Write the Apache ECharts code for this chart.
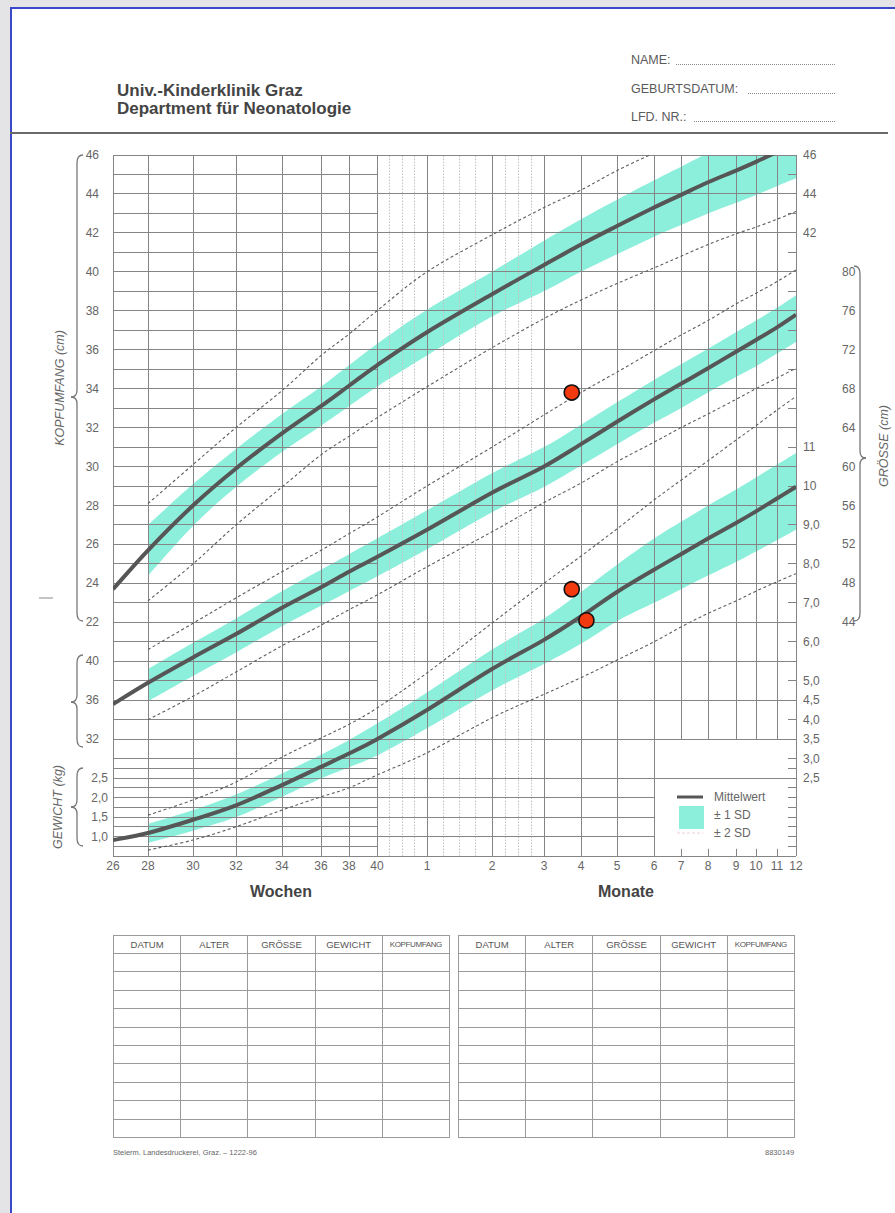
<!DOCTYPE html>
<html><head><meta charset="utf-8">
<script src="https://cdn.jsdelivr.net/npm/echarts@6/dist/echarts.min.js"></script>
<style>
html,body{margin:0;padding:0;}
body{width:895px;height:1213px;overflow:hidden;background:#e4e4e6;font-family:"Liberation Sans",Arial,sans-serif;position:relative;}
#page{position:absolute;left:10px;top:7px;width:900px;height:1230px;background:#fff;border-left:2px solid #3a49c9;border-top:2px solid #3a49c9;}
#chart{position:absolute;left:0;top:0;width:895px;height:1213px;}
.t{position:absolute;white-space:nowrap;color:#555;}
.h{font-size:17px;font-weight:bold;color:#444;left:117px;line-height:20px;}
.f{font-size:12.5px;left:631px;line-height:14px;color:#5a5a5a;}
.dots{position:absolute;border-bottom:1px dotted #888;height:0;}
.tbl{position:absolute;top:935px;width:337px;border-collapse:collapse;table-layout:fixed;}
.tbl th,.tbl td{border:1px solid #9a9a9a;padding:0;}
.tbl th{font-weight:normal;font-size:9.5px;color:#555;height:17px;letter-spacing:0;}
.tbl td{height:17.4px;}
.ft{font-size:7.5px;color:#666;top:1148px;}
</style></head>
<body>
<div id="page"></div>
<div class="t h" style="top:81px">Univ.-Kinderklinik Graz</div>
<div class="t h" style="top:99px">Department für Neonatologie</div>
<div class="t f" style="top:53px">NAME:</div>
<div class="dots" style="left:676px;width:159px;top:64px"></div>
<div class="t f" style="top:82px">GEBURTSDATUM:</div>
<div class="dots" style="left:748px;width:87px;top:93px"></div>
<div class="t f" style="top:110px">LFD. NR.:</div>
<div class="dots" style="left:694px;width:141px;top:121px"></div>
<div style="position:absolute;left:10px;top:132px;width:878px;height:2px;background:#6a6a6a"></div>
<div id="chart"></div>
<table class="tbl" id="tl" style="left:113px"></table>
<table class="tbl" id="tr" style="left:458px"></table>
<div class="t ft" style="left:113px">Steierm. Landesdruckerei, Graz. – 1222-96</div>
<div class="t ft" style="left:765px">8830149</div>
<script>
// ---------- table headings ----------
const tableHeads = ['DATUM','ALTER','GRÖSSE','GEWICHT','KOPFUMFANG'];
['tl','tr'].forEach(id=>{
  const t=document.getElementById(id);
  let h='<tr>'+tableHeads.map(s=>'<th'+(s==='KOPFUMFANG'?' style="font-size:8px;letter-spacing:-0.4px"':'')+'>'+s+'</th>').join('')+'</tr>';
  for(let r=0;r<10;r++) h+='<tr>'+tableHeads.map(()=>'<td></td>').join('')+'</tr>';
  t.innerHTML=h;
});

// ---------- data ----------
// age ticks: weeks of gestation 26..40, then months 1..12
const ageLabels = ['26','28','30','32','34','36','38','40','1','2','3','4','5','6','7','8','9','10','11','12'];
// printed (non-uniform) x scale of the form: position of each age tick
const xTickPos = [0,35,80,123,169,208,236,264,314,379,431,468,504,541,568,595,623,643,664,683];

// head circumference (cm)
const headMean = [23.7,25.7,28.0,29.9,31.7,33.1,34.15,35.2,36.9,38.85,40.35,41.4,42.35,43.3,43.95,44.6,45.2,45.65,46.15,46.6];
const head1Hi  = [null,27.0,29.1,30.9,32.7,34.1,35.2,36.3,38.05,40.0,41.6,42.7,43.7,44.7,45.4,46.1,46.75,47.25,47.8,48.3];
const head1Lo  = [null,24.4,26.95,28.95,30.75,32.1,33.1,34.1,35.7,37.7,39.0,40.0,40.9,41.8,42.4,43.0,43.55,43.95,44.4,44.8];
const head2Hi  = [null,28.1,30.1,32.0,33.9,35.7,36.8,38.0,40.0,41.9,43.3,44.2,45.2,46.1,46.7,null,null,null,null,null];
const head2Lo  = [null,23.1,25.0,27.0,28.95,30.6,31.55,32.5,34.1,36.1,37.6,38.55,39.4,40.2,40.8,41.4,41.95,42.3,42.7,43.1];
// length (cm)
const sizeMean = [35.6,37.8,40.4,42.8,45.5,47.6,49.2,50.7,53.5,57.3,60.0,62.3,64.6,66.9,68.5,70.1,71.8,73.0,74.3,75.6];
const size1Hi  = [null,39.2,41.9,44.4,47.2,49.4,51.0,52.6,55.5,59.3,62.0,64.3,66.6,68.9,70.5,72.1,73.8,75.0,76.3,77.6];
const size1Lo  = [null,35.9,38.5,40.9,43.6,45.7,47.2,48.7,51.5,55.3,57.9,60.1,62.3,64.5,66.0,67.6,69.2,70.3,71.6,72.8];
const size2Hi  = [null,41.2,43.9,46.5,49.2,51.4,53.1,54.8,58.0,62.0,65.3,67.6,69.7,71.9,73.5,75.0,76.7,77.8,79.0,80.2];
const size2Lo  = [null,34.0,36.4,38.9,41.6,43.7,45.3,46.8,49.7,53.3,56.3,58.3,60.5,62.5,64.0,65.4,66.9,68.0,69.1,70.1];
// weight (kg)
const weightMean = [0.91,1.09,1.43,1.8,2.32,2.79,3.13,3.5,4.25,5.3,6.05,6.65,7.28,7.85,8.25,8.65,9.05,9.35,9.68,9.98];
const weight1Hi  = [null,1.32,1.68,2.08,2.62,3.1,3.48,3.9,4.7,5.8,6.6,7.28,7.98,8.65,9.08,9.5,9.91,10.22,10.55,10.85];
const weight1Lo  = [null,0.84,1.15,1.5,2.02,2.49,2.78,3.08,3.78,4.75,5.43,5.95,6.53,7.0,7.35,7.7,8.05,8.32,8.61,8.88];
const weight2Hi  = [null,1.55,1.94,2.4,3.04,3.53,3.88,4.3,5.2,6.48,7.5,8.2,8.9,9.64,10.15,10.65,11.18,11.55,11.95,12.3];
const weight2Lo  = [null,0.65,0.91,1.25,1.68,2.02,2.25,2.58,3.15,4.05,4.65,5.08,5.53,6.0,6.38,6.73,7.05,7.3,7.54,7.75];
// patient measurements (age in months)
const patientSizeAge = [3.75];
const patientSizeCm = [67.6];
const patientWeightAge = [3.75, 4.15];
const patientWeightKg = [7.35, 6.55];

// axis tick labels
const headTicksLeft = [22,24,26,28,30,32,34,36,38,40,42,44,46];
const sizeTicksLeft = [32,36,40];
const weightTicksLeft = [1.0,1.5,2.0,2.5];
const headTicksRight = [42,44,46];
const weightTicksRight = [2.5,3.0,3.5,4.0,4.5,5.0,6,7,8,9,10,11];
const sizeTicksRight = [44,48,52,56,60,64,68,72,76,80];

// ---------- form scales (all three measures share one vertical grid) ----------
const headU = v => v;
const sizeU = v => v / 2;
const weightU = v => 9 + 2 * v;
const uToWeight = u => (u - 9) / 2;
const fmtKg = w => w >= 10 ? String(Math.round(w)) : w.toFixed(1).replace('.', ',');
const U_MIN = 10, U_MAX = 46;
const X_END = xTickPos[xTickPos.length - 1];
function monthPos(m){ const f = 7 + m, i = Math.floor(f), t = f - i; return xTickPos[i] + (xTickPos[i+1] - xTickPos[i]) * t; }

const TEAL = '#8cefdb', DARK = '#565656', DASH = '#5e5e5e';
const FONT = '"Liberation Sans", Arial, sans-serif';

function pts(arr, conv){ const o=[]; arr.forEach((v,i)=>{ if(v!=null) o.push([xTickPos[i], conv(v)]); }); return o; }

// Catmull-Rom spline through pixel points -> SVG path
function splineCmds(p, start){
  let d = start ? `M${p[0][0]} ${p[0][1]}` : `L${p[0][0]} ${p[0][1]}`;
  for(let i=0;i<p.length-1;i++){
    const p0=p[i-1]||p[i], p1=p[i], p2=p[i+1], p3=p[i+2]||p[i+1];
    const c1=[p1[0]+(p2[0]-p0[0])/6, p1[1]+(p2[1]-p0[1])/6];
    const c2=[p2[0]-(p3[0]-p1[0])/6, p2[1]-(p3[1]-p1[1])/6];
    d += ` C${c1[0]} ${c1[1]} ${c2[0]} ${c2[1]} ${p2[0]} ${p2[1]}`;
  }
  return d;
}
function clipOf(params){ const c=params.coordSys; return {type:'rect', shape:{x:c.x, y:c.y, width:c.width, height:c.height}}; }
function curveSeries(points, style, z){
  return {type:'custom', z:z, silent:true, animation:false, data:[[0,U_MIN]], encode:{x:0,y:1},
    renderItem:(params, api)=>{
      const p = points.map(q=>api.coord(q));
      return {type:'path', shape:{pathData:splineCmds(p,true)}, style:Object.assign({fill:'none'}, style), clipPath:clipOf(params)};
    }};
}
function bandSeries(lo, hi, conv){
  const loP=[], hiP=[];
  lo.forEach((v,i)=>{ if(v!=null && hi[i]!=null){ loP.push([xTickPos[i], conv(v)]); hiP.push([xTickPos[i], conv(hi[i])]); } });
  return {type:'custom', z:1, silent:true, animation:false, data:[[0,U_MIN]], encode:{x:0,y:1},
    renderItem:(params, api)=>{
      const a = hiP.map(q=>api.coord(q)), b = loP.map(q=>api.coord(q)).reverse();
      return {type:'path', shape:{pathData:splineCmds(a,true)+' '+splineCmds(b,false)+' Z'}, style:{fill:TEAL, stroke:'none'}, clipPath:clipOf(params)};
    }};
}
const dashStyle = {stroke:DASH, lineWidth:1.1, lineDash:[3,2.5]};
const meanStyle = {stroke:DARK, lineWidth:4};
function groupSeries(mean, lo1, hi1, lo2, hi2, conv){
  return [
    bandSeries(lo1, hi1, conv),
    curveSeries(pts(hi2,conv), dashStyle, 3),
    curveSeries(pts(lo2,conv), dashStyle, 3),
    curveSeries(pts(mean,conv), meanStyle, 4)
  ];
}

// ---------- grid of the form: [x1,u1,x2,u2,kind] kind 0 strong / 1 light ----------
const segs=[];
const X40 = xTickPos[7], X6 = xTickPos[13];
xTickPos.forEach((x,i)=>{
  if(i>=14 && i<=18){ segs.push([x,16,x,U_MAX,0]); segs.push([x,U_MIN,x,U_MIN+0.37,0]); }
  else segs.push([x,U_MIN,x,U_MAX,0]);
});
for(let k=7;k<=9;k++) for(let q=1;q<=3;q++){ const x=xTickPos[k]+(xTickPos[k+1]-xTickPos[k])*q/4; segs.push([x,U_MIN,x,U_MAX,1]); }
for(let u=U_MIN; u<=U_MAX; u++){
  let x2;
  if(u===U_MIN || (u%2===0 && u>=14)) x2=X_END;
  else if(u>=11 && u<=13) x2=X6;
  else x2=X40;
  segs.push([0,u,x2,u,0]);
}
for(let u=10.5; u<15; u+=1) segs.push([0,u,X40,u,0]);
for(let u=15; u<U_MAX; u+=2) segs.push([X_END-8,u,X_END,u,0]);
for(let u=10.5; u<14.6; u+=0.5){ if(u!==14) segs.push([X_END-8,u,X_END,u,0]); }
const snap = v => Math.round(v-0.5)+0.5;

const gridSeries = {type:'custom', z:2, silent:true, animation:false, data:segs, encode:{x:[0,2], y:[1,3]},
  renderItem:(params, api)=>{
    const a = api.coord([api.value(0), api.value(1)]), b = api.coord([api.value(2), api.value(3)]);
    const light = api.value(4) === 1;
    const vert = Math.abs(a[0]-b[0]) < 0.5;
    const x1 = vert ? snap(a[0]) : a[0], x2 = vert ? snap(b[0]) : b[0];
    const y1 = vert ? a[1] : snap(a[1]), y2 = vert ? b[1] : snap(b[1]);
    return {type:'line', shape:{x1:x1,y1:y1,x2:x2,y2:y2},
      style:{stroke: light ? '#c2c2c2' : '#858585', lineWidth:1, lineDash: light ? [1.5,1.5] : null}};
  }};

const series = [
  gridSeries,
  ...groupSeries(headMean, head1Lo, head1Hi, head2Lo, head2Hi, headU),
  ...groupSeries(sizeMean, size1Lo, size1Hi, size2Lo, size2Hi, sizeU),
  ...groupSeries(weightMean, weight1Lo, weight1Hi, weight2Lo, weight2Hi, weightU),
  {type:'scatter', silent:true, animation:false, symbolSize:15, z:6,
   itemStyle:{color:'#f23a0e', borderColor:'#111', borderWidth:1.6, opacity:1},
   data:[...patientSizeAge.map((a,i)=>[monthPos(a), sizeU(patientSizeCm[i])]),
         ...patientWeightAge.map((a,i)=>[monthPos(a), weightU(patientWeightKg[i])])]}
];

const lblBase = {fontSize:12, color:'#666', fontFamily:FONT};
function yAx(pos, values, fmt, margin, offset){
  return {type:'value', min:U_MIN, max:U_MAX, position:pos, offset:offset||0,
    axisLine:{show:false}, axisTick:{show:false}, splitLine:{show:false},
    axisLabel:Object.assign({}, lblBase, {customValues:values, formatter:fmt, margin:margin, showMinLabel:true, showMaxLabel:true})};
}
const yAxis = [
  yAx('left', headTicksLeft.map(headU), v=>String(Math.round(v)), 14),
  yAx('left', sizeTicksLeft.map(sizeU), v=>String(Math.round(v*2)), 14),
  yAx('left', weightTicksLeft.map(weightU), v=>fmtKg(uToWeight(v)), 5),
  yAx('right', headTicksRight.map(headU), v=>String(Math.round(v)), 7),
  yAx('right', weightTicksRight.map(weightU), v=>fmtKg(uToWeight(v)), 7),
  yAx('right', sizeTicksRight.map(sizeU), v=>String(Math.round(v*2)), 7, 39)
];

// curly braces built from lines and quadratic curves
const braceStyle = {stroke:'#777', fill:null, lineWidth:1.3};
function brace(x,y1,y2,ym,dir){
  const h=6*dir, d=6*dir;
  return [
    {type:'bezierCurve', shape:{x1:x+h,y1:y1,cpx1:x,cpy1:y1,x2:x,y2:y1+8}, style:braceStyle},
    {type:'line', shape:{x1:x,y1:y1+8,x2:x,y2:ym-7}, style:braceStyle},
    {type:'bezierCurve', shape:{x1:x,y1:ym-7,cpx1:x,cpy1:ym,x2:x-d,y2:ym}, style:braceStyle},
    {type:'bezierCurve', shape:{x1:x-d,y1:ym,cpx1:x,cpy1:ym,x2:x,y2:ym+7}, style:braceStyle},
    {type:'line', shape:{x1:x,y1:ym+7,x2:x,y2:y2-8}, style:braceStyle},
    {type:'bezierCurve', shape:{x1:x,y1:y2-8,cpx1:x,cpy1:y2,x2:x+h,y2:y2}, style:braceStyle}
  ];
}
const titleStyle = (t)=>({text:t, fontSize:12.5, fontStyle:'italic', fill:'#666', fontFamily:FONT, align:'center', verticalAlign:'middle'});
const legTxt = (t)=>({text:t, fontSize:12, fill:'#666', fontFamily:FONT, align:'left', verticalAlign:'middle'});

const graphic = [
  ...brace(77,155,621,397,1),
  ...brace(77,655,747,702,1),
  ...brace(77,768,846,807,1),
  ...brace(860,266,621,458,-1),
  {type:'text', x:60, y:388, rotation:Math.PI/2, style:titleStyle('KOPFUMFANG (cm)')},
  {type:'text', x:58, y:807, rotation:Math.PI/2, style:titleStyle('GEWICHT (kg)')},
  {type:'text', x:884, y:446, rotation:Math.PI/2, style:titleStyle('GRÖSSE (cm)')},
  {type:'line', shape:{x1:39,y1:598,x2:53,y2:598}, style:{stroke:'#888', lineWidth:1}},
  {type:'text', x:281, y:891, style:{text:'Wochen', fontSize:16, fontWeight:'bold', fill:'#444', fontFamily:FONT, align:'center', verticalAlign:'middle'}},
  {type:'text', x:626, y:891, style:{text:'Monate', fontSize:16, fontWeight:'bold', fill:'#444', fontFamily:FONT, align:'center', verticalAlign:'middle'}},
  {type:'line', shape:{x1:677,y1:797,x2:703,y2:797}, style:{stroke:DARK, lineWidth:3}},
  {type:'text', x:714, y:797, style:legTxt('Mittelwert')},
  {type:'rect', shape:{x:679,y:806,width:25,height:23}, style:{fill:TEAL}},
  {type:'text', x:714, y:815, style:legTxt('± 1 SD')},
  {type:'line', shape:{x1:677,y1:833,x2:703,y2:833}, style:{stroke:'#ecd0d0', lineWidth:1, lineDash:[3,2]}},
  {type:'text', x:714, y:833, style:legTxt('± 2 SD')}
];

const chart = echarts.init(document.getElementById('chart'), null, {renderer:'svg'});
chart.setOption({
  animation:false,
  backgroundColor:'transparent',
  grid:{left:113, top:155, width:X_END, height:701, containLabel:false},
  xAxis:{type:'value', min:0, max:X_END, axisLine:{show:false}, axisTick:{show:false}, splitLine:{show:false},
    axisLabel:Object.assign({}, lblBase, {customValues:xTickPos, margin:4, showMinLabel:true, showMaxLabel:true,
      formatter:v=>{ const i=xTickPos.findIndex(p=>Math.abs(p-v)<0.01); return i>=0?ageLabels[i]:''; }})},
  yAxis:yAxis,
  series:series,
  graphic:graphic
});
</script>
</body></html>
